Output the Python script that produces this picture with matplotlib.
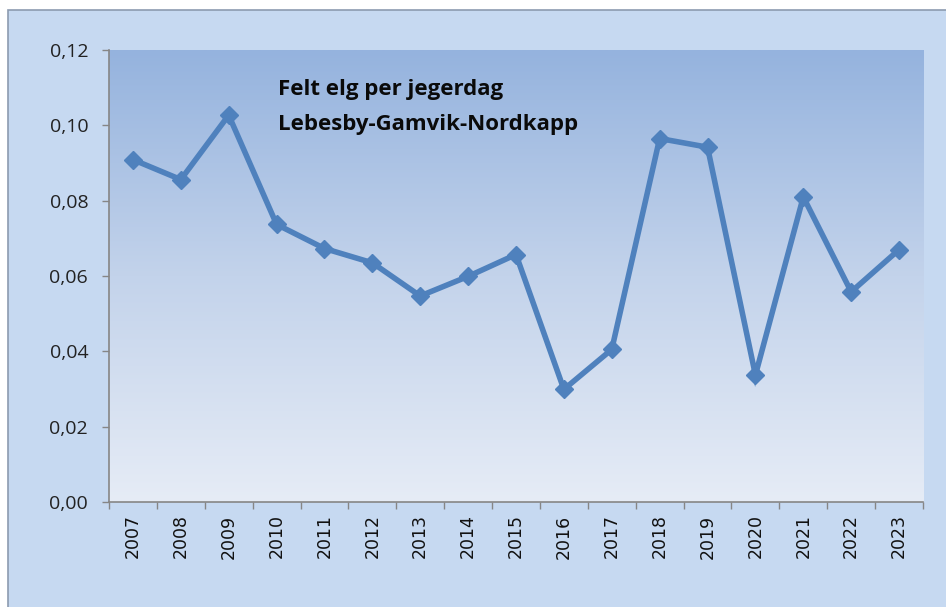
import matplotlib
matplotlib.use("Agg")
import matplotlib.pyplot as plt
import numpy as np
from matplotlib.patches import Rectangle
from matplotlib.colors import LinearSegmentedColormap

years = ["2007", "2008", "2009", "2010", "2011", "2012", "2013", "2014", "2015",
         "2016", "2017", "2018", "2019", "2020", "2021", "2022", "2023"]
values = [0.0909, 0.0856, 0.1027, 0.0737, 0.0673, 0.0635, 0.0547, 0.0599, 0.0657,
          0.0299, 0.0405, 0.0965, 0.0942, 0.0337, 0.0810, 0.0558, 0.0670]
y_ticks = [0.00, 0.02, 0.04, 0.06, 0.08, 0.10, 0.12]
y_labels = ["0,00", "0,02", "0,04", "0,06", "0,08", "0,10", "0,12"]
title_lines = ["Felt elg per jegerdag", "Lebesby-Gamvik-Nordkapp"]

W, H = 946, 607
fig = plt.figure(figsize=(W / 100, H / 100), dpi=100)
fig.patch.set_facecolor("white")

# chart area background with border
bg = Rectangle((8 / W, -0.01), 1.0, 1 - 10 / H + 0.01,
               transform=fig.transFigure, facecolor="#c6d9f1",
               edgecolor="#8c9bb0", linewidth=1.2, zorder=-10)
fig.patches.append(bg)

ax = fig.add_axes([109 / W, (H - 502) / H, (923 - 109) / W, (502 - 50) / H])
ax.set_facecolor("none")
ax.set_zorder(1)

x = np.arange(len(years))
ax.set_xlim(-0.5, len(years) - 0.5)
ax.set_ylim(0, 0.12)

# gradient fill of plot area
cmap = LinearSegmentedColormap.from_list("g", ["#e6ecf6", "#c3d3eb", "#95b3de"])
grad = np.linspace(0, 1, 256).reshape(-1, 1)
ax.imshow(grad, extent=[-0.5, len(years) - 0.5, 0, 0.12], origin="lower",
          aspect="auto", cmap=cmap, zorder=0)

ax.plot(x, values, color="#4f81bd", linewidth=4.0, marker="D", markersize=9.5,
        markeredgecolor="#4f81bd", markerfacecolor="#4f81bd", zorder=3,
        solid_joinstyle="miter")

ax.set_yticks(y_ticks)
ax.set_yticklabels(y_labels, fontsize=14, fontfamily="Open Sans", color="#222222")
ax.set_xticks(x)
ax.set_xticklabels(years, rotation=90, fontsize=12.5, fontfamily="DejaVu Sans",
                   color="#111111")
ax.set_xticks(np.arange(-0.5, len(years)), minor=True)
ax.tick_params(axis="x", which="major", length=0, pad=9)
ax.tick_params(axis="x", which="minor", length=5, color="#868686", width=1)
ax.tick_params(axis="y", length=5, color="#868686", width=1, pad=10)

for s in ["top", "right"]:
    ax.spines[s].set_visible(False)
for s in ["left", "bottom"]:
    ax.spines[s].set_color("#868686")
    ax.spines[s].set_linewidth(1.2)

fig.text(278 / W, 1 - 90 / H, title_lines[0], fontsize=16, fontweight="bold",
         fontfamily="Open Sans", color="#0a0a0a", va="center", ha="left", zorder=5)
fig.text(278 / W, 1 - 124 / H, title_lines[1], fontsize=16, fontweight="bold",
         fontfamily="Open Sans", color="#0a0a0a", va="center", ha="left", zorder=5)

fig.savefig("out.png", dpi=100, facecolor=fig.get_facecolor())
